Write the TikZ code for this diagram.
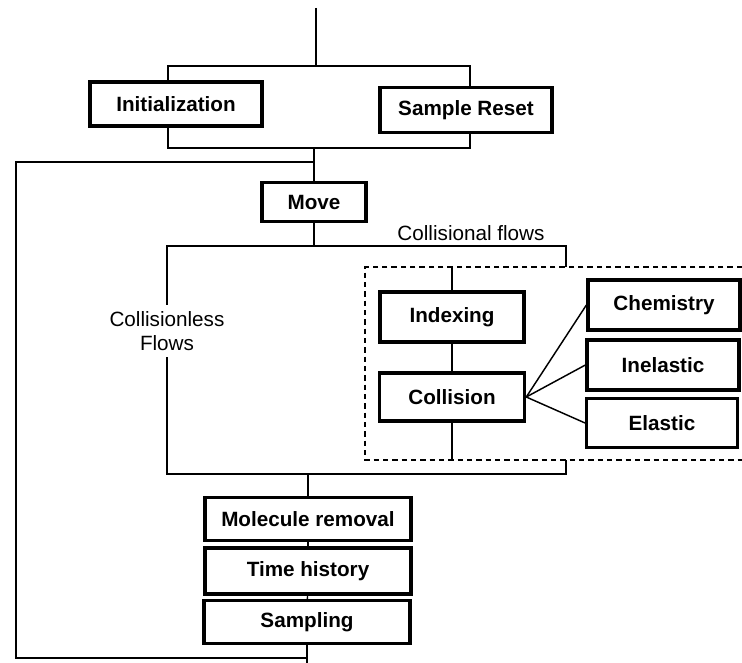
\documentclass[tikz,border=0pt]{standalone}
\usepackage{fontspec}
\setmainfont{Liberation Sans}

\begin{document}
\begin{tikzpicture}[x=0.75pt,y=0.75pt,yscale=-1,xscale=1,
  stepbox/.style={draw, line width=2.4pt, inner sep=0pt, font=\fontsize{15.5}{18}\selectfont\bfseries},
  flowlabel/.style={inner sep=0.75pt, font=\fontsize{15.5}{18.5}\selectfont, align=center},
  thinline/.style={line width=1.1pt},
  cbox/.style={line width=0.9pt, dash pattern=on 4pt off 3pt}]
\useasboundingbox (0,0) rectangle (742,663);

%Shape: Rectangle
\node [stepbox, minimum width=129pt, minimum height=33pt] (init) at (176,104) {Initialization};
%Shape: Rectangle
\node [stepbox, minimum width=129pt, minimum height=34pt] (reset) at (466,110) {Sample Reset};
%Shape: Rectangle
\node [stepbox, minimum width=78pt, minimum height=29pt] (move) at (314,202) {Move};
%Shape: Rectangle
\node [stepbox, minimum width=108pt, minimum height=37.5pt] (index) at (452,317) {Indexing};
%Shape: Rectangle
\node [stepbox, minimum width=109pt, minimum height=36pt] (coll) at (452,397) {Collision};
%Shape: Rectangle
\node [stepbox, minimum width=114pt, minimum height=37.5pt] (chem) at (664,305) {Chemistry};
%Shape: Rectangle
\node [stepbox, minimum width=114pt, minimum height=37.5pt] (inel) at (663,365) {Inelastic};
%Shape: Rectangle
\node [stepbox, minimum width=113pt, minimum height=37pt] (elas) at (662,423) {Elastic};
%Shape: Rectangle
\node [stepbox, minimum width=154.5pt, minimum height=32pt] (molrem) at (308,519) {Molecule removal};
%Shape: Rectangle
\node [stepbox, minimum width=154.5pt, minimum height=34.5pt] (timeh) at (308,571) {Time history};
%Shape: Rectangle
\node [stepbox, minimum width=154.5pt, minimum height=32pt] (samp) at (307,622) {Sampling};

% Text Node
\node [flowlabel] (collflows) at (471,233) {Collisional flows};
% Text Node
\node [flowlabel, inner sep=4.5pt] (lessflows) at (167,331) {Collisionless\\Flows};

% junction points
\coordinate (start) at (316,8);
\coordinate (topM) at (316,66);
\coordinate (topL) at (168,66);
\coordinate (topR) at (470,66);
\coordinate (midL) at (168,148);
\coordinate (midR) at (470,148);
\coordinate (midM) at (314,148);
\coordinate (loopin) at (314,162);
\coordinate (loopTL) at (16,162);
\coordinate (loopBL) at (16,658);
\coordinate (loopBR) at (307,658);
\coordinate (finish) at (307,663);
\coordinate (splitM) at (314,246);
\coordinate (splitL) at (167,246);
\coordinate (splitR) at (566,246);
\coordinate (joinL) at (167,474);
\coordinate (joinR) at (566,474);
\coordinate (joinM) at (308,474);
\coordinate (boxin) at (566,267);
\coordinate (boxout) at (566,460);
\coordinate (boxtop) at (452,267);
\coordinate (boxbot) at (452,460);

%Straight Lines
\draw [thinline] (start) -- (topM) ;
\draw [thinline] (init.north -| topL) -- (topL) -- (topR) -- (reset.north -| topR) ;
\draw [thinline] (init.south -| midL) -- (midL) -- (midR) -- (reset.south -| midR) ;
\draw [thinline] (midM) -- (move.north) ;
%Straight Lines
\draw [thinline] (loopin) -- (loopTL) -- (loopBL) -- (loopBR) ;
\draw [thinline] (samp.south) -- (finish) ;
%Straight Lines
\draw [thinline] (move.south) -- (splitM) ;
\draw [thinline] (lessflows.north) -- (splitL) -- (splitR) -- (boxin) ;
\draw [thinline] (lessflows.south) -- (joinL) -- (joinR) -- (boxout) ;
\draw [thinline] (joinM) -- (molrem.north) ;
\draw [thinline] (molrem) -- (timeh) ;
\draw [thinline] (timeh) -- (samp) ;
%Straight Lines
\draw [thinline] (boxtop) -- (index.north) ;
\draw [thinline] (index) -- (coll) ;
\draw [thinline] (coll.south) -- (boxbot) ;
\foreach \kind in {chem,inel,elas}
  \draw [thinline] (coll.east) -- (\kind.west) ;

%Shape: Dashed frame
\draw [cbox] (742,267) -- (365,267) -- (365,460) -- (742,460) ;

\end{tikzpicture}
\end{document}
